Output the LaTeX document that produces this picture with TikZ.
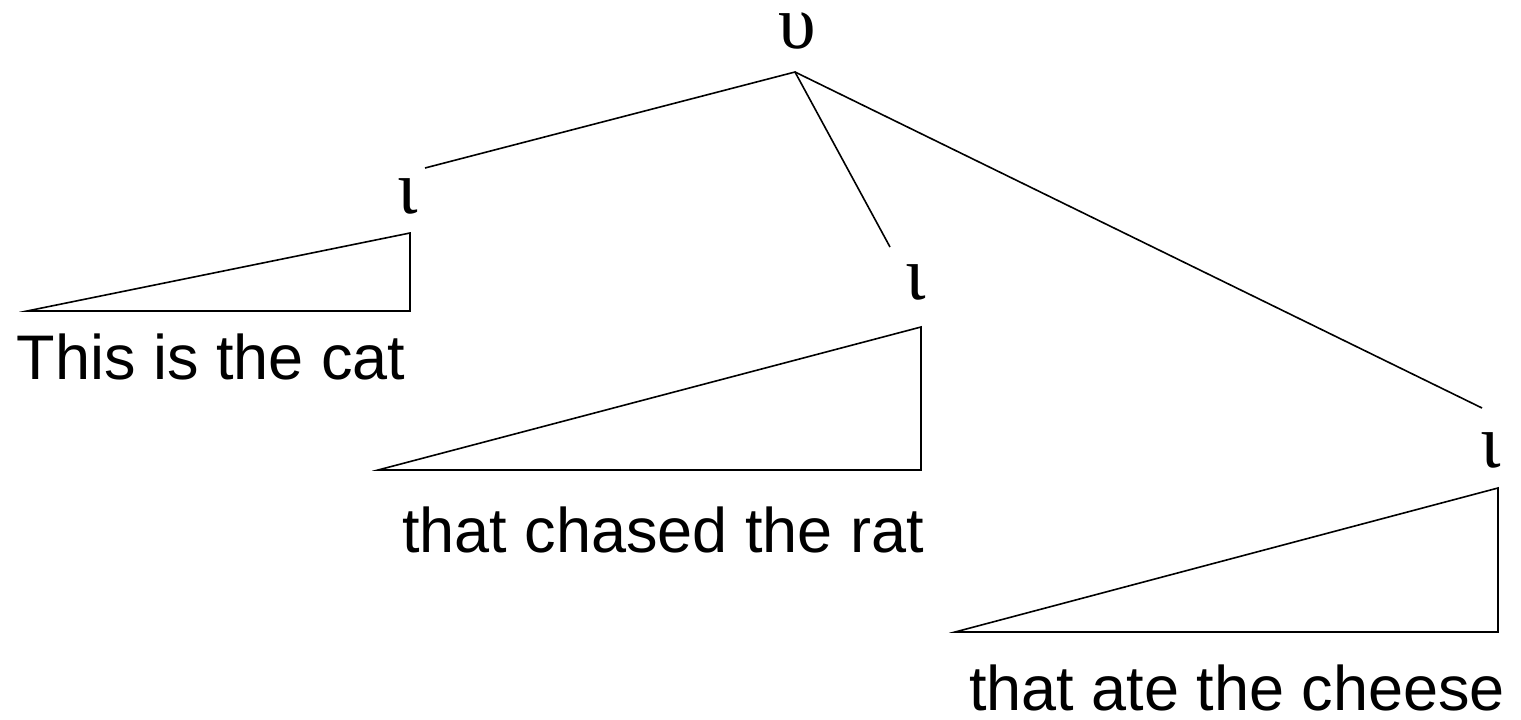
\documentclass[tikz,border=0pt]{standalone}
\usepackage{fontspec}
\setmainfont{Liberation Sans}
\newfontfamily\greekfont{Liberation Serif}
\usetikzlibrary{positioning}

\begin{document}
\begin{tikzpicture}[
  x=1pt, y=-1pt,
  line width=1.6pt,
  sym/.style={inner sep=0pt, font=\greekfont\fontsize{76}{76}\selectfont},
  phrase/.style={inner sep=0pt, anchor=base, font=\fontsize{63}{63}\selectfont},
  tri/.style={line join=miter}
]
\useasboundingbox (0,0) rectangle (1521,720);

% nodes
\node[sym] (top) at (797,31) {υ};
\node[sym] (i1) at (408,196) {ι};
\node[sym] (i2) at (916,282) {ι};
\node[sym] (i3) at (1491,450) {ι};

% branch ends
\coordinate (root) at (795,72);
\coordinate (b1) at (425,168);
\coordinate (b2) at (890,247);
\coordinate (b3) at (1482,408);

\draw (b1) -- (root) -- (b2);
\draw (root) -- (b3);

% triangles
\draw[tri] (27,311) -- (410,233) -- (410,311) -- cycle;
\draw[tri] (378,470) -- (921,327) -- (921,470) -- cycle;
\draw[tri] (955,632) -- (1498,488) -- (1498,632) -- cycle;

% phrases
\node[phrase] (p1) at (211,379) {This is the cat};
\node[phrase] (p2) at (663,552) {that chased the rat};
\node[phrase] (p3) at (1237,710) {that ate the cheese};

\end{tikzpicture}
\end{document}
